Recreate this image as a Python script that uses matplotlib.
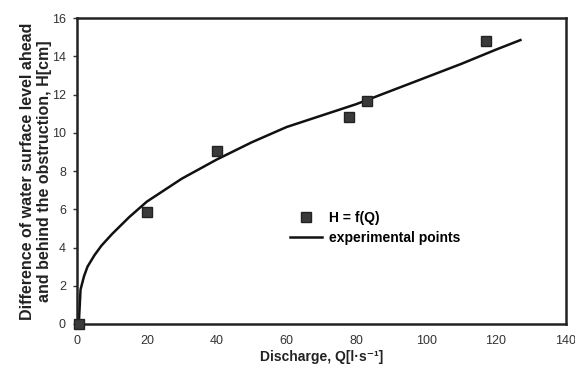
import matplotlib.pyplot as plt

plt.rcParams['font.family'] = ['Liberation Sans', 'DejaVu Sans']

# measured points
Q_pts = [0.5, 20, 40, 78, 83, 117]
H_pts = [0.0, 5.84, 9.04, 10.8, 11.65, 14.78]

# fitted curve
Q_fit = [0.5, 1, 2, 3, 5, 7, 10, 15, 20, 25, 30, 40, 50, 60, 70, 80, 90, 100, 110, 120, 127]
H_fit = [0.0, 1.8, 2.5, 3.0, 3.6, 4.1, 4.7, 5.6, 6.4, 7.0, 7.6, 8.6, 9.5, 10.3, 10.9, 11.5, 12.2, 12.9, 13.6, 14.35, 14.85]

fig = plt.figure(figsize=(5.75, 3.69), dpi=100)
ax = fig.add_axes([0.134, 0.122, 0.85, 0.829])

ax.plot(Q_pts, H_pts, 's', color='#3a3a3a', markersize=7, markeredgecolor='#222222',
        label='H = f(Q)', clip_on=False, zorder=3)
ax.plot(Q_fit, H_fit, '-', color='#111111', linewidth=1.8, label='experimental points')

ax.set_xlim(0, 140)
ax.set_ylim(0, 16)
ax.set_xticks(range(0, 141, 20))
ax.set_yticks(range(0, 17, 2))
ax.tick_params(labelsize=9, colors='#333333', length=3, width=1)
ax.tick_params(axis='y', pad=5)
ax.tick_params(axis='x', length=0, pad=8)

for s in ax.spines.values():
    s.set_linewidth(1.8)
    s.set_color('#222222')

ax.set_xlabel('Discharge, Q[l·s⁻¹]', fontsize=10, fontweight='bold', color='#222222', labelpad=2)
ax.set_ylabel('Difference of water surface level ahead\nand behind the obstruction, H[cm]',
              fontsize=11.5, fontweight='bold', color='#222222', labelpad=0)

leg = ax.legend(loc='upper left', bbox_to_anchor=(0.41, 0.41), frameon=False,
                prop={'weight': 'bold', 'size': 10}, handlelength=2.3,
                handletextpad=0.5, labelspacing=0.45)

fig.savefig('out.png', dpi=100)
